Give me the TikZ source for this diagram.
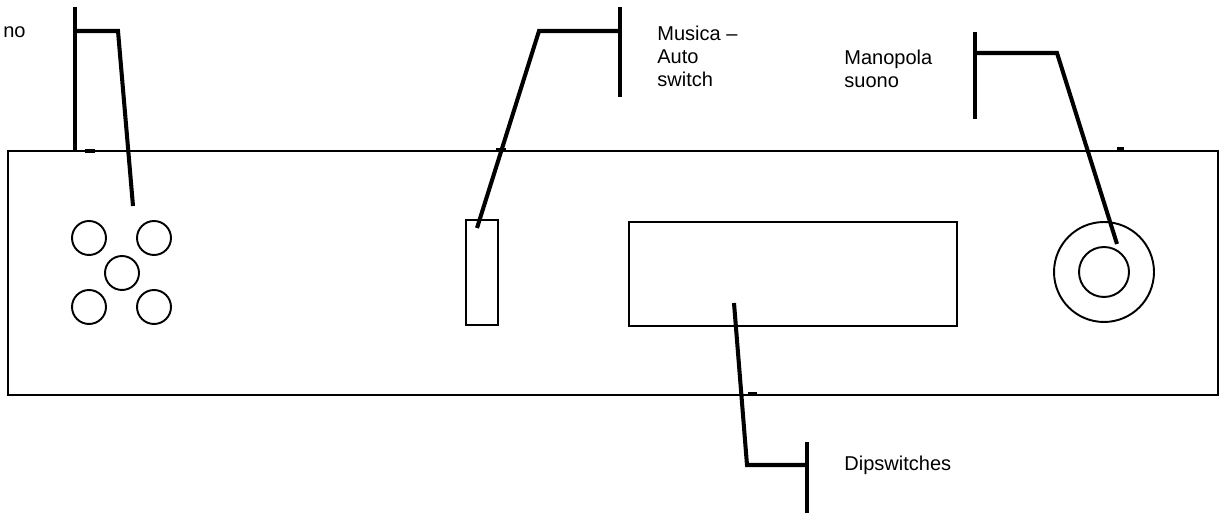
\documentclass[tikz,border=0pt]{standalone}
\usepackage{fontspec}
\setmainfont{Liberation Sans}
\usetikzlibrary{calc,positioning}
\tikzset{
  every node/.style={font=\fontsize{11.4}{13.1}\selectfont},
  panel/.style={draw=black, line width=1.1pt, inner sep=0pt},
  button/.style={circle, draw=black, line width=1.1pt, minimum size=0.68cm, inner sep=0pt},
  ring/.style={circle, draw=black, line width=1.1pt, inner sep=0pt},
  leader/.style={draw=black, line width=2.3pt},
  tagbar/.style={draw=black, line width=2.3pt},
  nick/.style={draw=black, line width=2pt},
  tag/.style={align=left, anchor=west, inner sep=0pt},
}
\begin{document}
\begin{tikzpicture}[x=0.02cm,y=-0.02cm]
  \useasboundingbox (0,0) rectangle (1224,516);
  % front panel
  \node[panel, minimum width=24.2cm, minimum height=4.88cm] (front) at (613,273) {};
  \draw[nick] (85,151) -- (95,151);
  \draw[nick] (496,150) -- (506,150);
  \draw[nick] (1117,149) -- (1124,149);
  \draw[nick] (748,394) -- (757,394);

  % buttons
  \node[button] (btnTL) at (89,238) {};
  \node[button] (btnTR) at (154,238) {};
  \node[button] (btnC) at (122,273) {};
  \node[button] (btnBL) at (89,307) {};
  \node[button] (btnBR) at (154,307) {};

  % switch, display, knob
  \node[panel, minimum width=0.64cm, minimum height=2.1cm] (switch) at (482,272.5) {};
  \node[panel, minimum width=6.56cm, minimum height=2.08cm] (display) at (793,274) {};
  \node[ring, minimum size=2cm] (knobOut) at (1104,272) {};
  \node[ring, minimum size=1cm] (knobIn) at (1104,272) {};

  % labels
  \node[tag] (lblBtn) at (3,32) {no};
  \node[tag] (lblSwitch) at (657,56) {Musica --\\Auto\\switch};
  \node[tag] (lblKnob) at (844,68.5) {Manopola\\suono};
  \node[tag] (lblDip) at (844,465) {Dipswitches};

  % callouts
  \coordinate (barBtnA) at (75,7);
  \coordinate (barBtnB) at (75,150);
  \coordinate (kneeBtn) at (75,31);
  \coordinate (bendBtn) at (118,31);
  \coordinate (tipBtn) at (133,206);
  \draw[tagbar] (barBtnA) -- (barBtnB);
  \draw[leader] (kneeBtn) -- (bendBtn) -- (tipBtn);

  \coordinate (barSwA) at (620,7);
  \coordinate (barSwB) at (620,97);
  \coordinate (kneeSw) at (620,31);
  \coordinate (bendSw) at (539,31);
  \coordinate (tipSw) at (477,228);
  \draw[tagbar] (barSwA) -- (barSwB);
  \draw[leader] (kneeSw) -- (bendSw) -- (tipSw);

  \coordinate (barKnA) at (975,32);
  \coordinate (barKnB) at (975,119);
  \coordinate (kneeKn) at (975,53);
  \coordinate (bendKn) at (1057,53);
  \coordinate (tipKn) at (1117,244);
  \draw[tagbar] (barKnA) -- (barKnB);
  \draw[leader] (kneeKn) -- (bendKn) -- (tipKn);

  \coordinate (barDipA) at (807,442);
  \coordinate (barDipB) at (807,513);
  \coordinate (kneeDip) at (807,465);
  \coordinate (bendDip) at (747,465);
  \coordinate (tipDip) at (734,303);
  \draw[tagbar] (barDipA) -- (barDipB);
  \draw[leader] (kneeDip) -- (bendDip) -- (tipDip);
\end{tikzpicture}
\end{document}
